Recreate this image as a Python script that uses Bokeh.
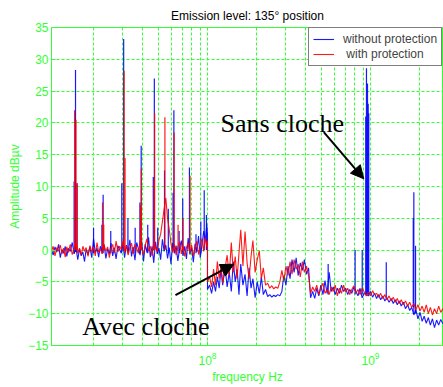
from bokeh.plotting import figure
from bokeh.models import (Range1d, FixedTicker, LogTickFormatter, Label, Arrow,
                          NormalHead, Legend, LegendItem, ColumnDataSource)
from bokeh.embed import file_html
from bokeh.resources import INLINE

title_text = "Emission level: 135\u00b0 position"
x_label = "frequency Hz"
y_label = "Amplitude dB\u00b5v"
series_names = ["without protection", " with protection"]

# ---- band 1 (MHz) ----
seg1_mhz = [
    11.0, 11.3, 11.6, 11.9, 12.2, 12.5, 12.8, 13.1, 13.4, 13.7,
    14.0, 14.4, 14.8, 15.2, 15.6, 16.0, 16.4, 16.8, 17.2, 17.6,
    18.0, 18.5, 19.0, 19.5, 20.0, 20.5, 21.0, 21.5, 22.0, 22.6,
    23.2, 23.8, 24.4, 25.0, 25.6, 26.2, 26.8, 27.5, 28.2, 28.9,
    29.6, 30.3, 31.0, 31.8, 32.6, 33.4, 34.2, 35.0, 35.9, 36.8,
    37.7, 38.6, 39.5, 40.5, 41.5, 42.5, 43.5, 44.6, 45.7, 46.8,
    48.0, 49.2, 50.4, 51.6, 52.9, 54.2, 55.5, 56.9, 58.3, 59.7,
    61.2, 62.7, 64.2, 65.8, 67.4, 69.1, 70.8, 72.5, 74.3, 76.1,
    78.0, 79.9, 81.9, 83.9, 86.0, 88.1, 90.3, 92.5, 94.8, 97.1,
    99.0, 100.0]
blue_seg1 = [
    0.2, -0.8, 0.5, -0.3, 0.9, -1.2, 0.1, -0.5, 0.6, -1.0,
    0.3, -0.2, 1.2, -0.6, 0.4, -1.5, 0.2, -0.9, -0.3, -1.8,
    0.1, -0.7, 0.5, -1.2, 1.8, -0.4, 0.3, -1.1, 0.6, -0.2,
    0.9, -1.3, 0.2, -0.6, 1.1, -0.9, 0.4, -1.4, 0.7, 0.1,
    -0.5, 1.0, -1.2, 0.8, -0.3, 1.6, -1.0, 0.5, -1.6, 1.2,
    0.2, -0.8, 1.4, -1.8, 0.9, -0.4, 2.0, -1.1, 0.6, -2.0,
    1.3, -0.6, 0.3, -1.5, 1.7, -0.2, 0.8, -1.3, 0.4, -2.2,
    1.1, -0.5, 0.7, -1.7, 0.2, 1.5, -0.9, 0.6, -1.4, 1.9,
    -0.7, 0.4, -1.9, 1.0, -0.3, 2.2, -1.2, 0.8, 3.0, 1.5,
    4.0, 2.5]
red_seg1 = [
    -0.3, 0.6, -0.9, 0.4, -0.2, 0.8, -0.6, 0.3, -1.1, 0.5,
    -0.4, 0.9, -0.7, 0.2, 1.0, -0.5, 0.3, -0.8, 0.6, -0.2,
    0.4, -1.0, 0.7, -0.3, 0.5, -0.9, 1.2, -0.4, 0.2, -0.6,
    0.8, -0.2, 0.5, -1.2, 0.3, 0.9, -0.5, 1.4, -0.3, 0.6,
    0.1, 1.5, -0.4, 0.7, -0.8, 0.4, 1.1, -0.6, 0.9, 0.2,
    -0.5, 1.3, 0.3, -0.7, 0.8, 1.8, -0.2, 0.6, -0.9, 1.2,
    0.4, -0.3, 1.6, 2.5, 4.5, 6.5, 8.2, 5.0, 3.2, 1.0,
    -0.4, 0.9, -0.8, 0.5, 1.3, -0.6, 0.7, -1.0, 0.4, 1.1,
    -0.5, 0.8, -0.9, 0.3, 1.4, -0.7, 0.6, 1.8, -0.2, 2.0,
    0.5, 1.5]

# ---- band 2 (MHz) ----
seg2_mhz = [
    100, 103, 106, 109, 112, 115, 118, 121, 124, 128,
    132, 136, 140, 144, 148, 152, 156, 160, 165, 170,
    175, 180, 185, 190, 196, 202, 208, 214, 220, 227,
    234, 241, 248, 255, 262, 270, 278, 286, 294, 303,
    312, 321, 330, 340, 350, 360, 371, 382, 393, 405,
    417, 429, 442, 455, 468, 482, 496, 511, 526, 542,
    558, 574, 591, 608, 626, 645, 664, 684, 704, 725,
    746, 768, 791, 814, 838, 863, 889, 915, 942, 970,
    999, 1030, 1060, 1090, 1120, 1155, 1190, 1225, 1260, 1300,
    1340, 1380, 1420, 1460, 1500, 1545, 1590, 1640, 1690, 1740,
    1790, 1845, 1900, 1955, 2015, 2075, 2135, 2200, 2265, 2330,
    2400, 2470, 2545, 2620, 2700, 2780]
blue_seg2 = [
    -6.2, -5.5, -6.8, -5.0, -6.5, -4.2, -6.0, -3.0, -5.5, -2.5,
    -5.8, -3.5, -6.5, -1.8, -5.0, -3.0, -7.0, -2.2, -5.5, -3.8,
    -7.2, -2.8, -6.0, -4.5, -7.5, -5.0, -6.8, -4.2, -7.0, -6.2,
    -7.3, -7.0, -7.4, -7.1, -7.3, -7.0, -7.2, -6.5, -4.0, -5.5,
    -2.5, -4.5, -1.5, -3.5, -1.2, -4.0, -2.0, -3.2, -1.5, -3.8,
    -2.8, -7.5, -6.5, -7.6, -6.0, -7.2, -5.5, -7.0, -4.8, -6.8,
    -3.5, -6.5, -5.8, -7.0, -6.0, -6.8, -5.5, -6.5, -6.0, -7.0,
    -6.2, -6.8, -5.8, -6.5, -7.2, -6.0, -7.5, -6.8, -7.0, -7.2,
    -6.5, -7.4, -6.8, -7.6, -7.0, -7.8, -7.2, -8.0, -7.5, -8.2,
    -7.6, -8.4, -7.8, -8.6, -8.0, -8.8, -8.2, -9.2, -8.6, -9.5,
    -9.0, -10.2, -9.4, -10.8, -9.8, -11.2, -10.4, -11.5, -10.6, -11.8,
    -10.8, -12.2, -11.0, -11.8, -10.9, -11.6]
red_seg2 = [
    -5.0, -4.2, -5.8, -3.0, -5.5, -1.8, -4.5, -2.5, -5.2, -3.0,
    -0.8, -4.0, 1.2, -3.5, -1.0, -4.5, -0.5, 3.2, -2.5, 2.9,
    -2.0, -4.5, -1.0, 1.5, -3.5, -1.5, -0.1, -4.5, -2.8, -5.5,
    -5.2, -6.0, -5.6, -6.1, -5.8, -6.0, -5.0, -3.2, -4.8, -2.5,
    -4.0, -1.8, -3.8, -1.5, -3.0, -2.2, -4.2, -1.8, -3.5, -2.5,
    -4.0, -6.8, -5.8, -6.5, -5.5, -7.0, -6.0, -5.2, -6.8, -6.2,
    -7.0, -5.8, -6.5, -5.5, -7.2, -6.0, -6.8, -5.5, -6.6, -6.0,
    -7.0, -6.2, -5.6, -6.8, -6.2, -7.0, -6.0, -6.6, -7.2, -6.6,
    -7.2, -6.4, -7.0, -6.8, -7.4, -6.8, -7.6, -7.0, -7.8, -7.2,
    -8.0, -7.4, -8.2, -7.6, -8.4, -7.8, -8.6, -8.0, -8.8, -8.2,
    -9.0, -8.4, -9.4, -8.6, -9.6, -8.8, -9.8, -8.6, -10.0, -9.0,
    -10.2, -9.2, -10.0, -8.8, -9.8, -9.2]

# ---- narrow emission lines (MHz, peak, foot) ----
blue_spike_mhz = [15.2, 15.5, 15.8, 20.0, 22.5, 22.9, 25.5, 29.8, 30.6, 32.5,
                  36.0, 38.5, 39.2, 43.0, 46.5, 47.2, 49.5, 54.5, 57.5, 61.5,
                  62.2, 67.0, 70.5, 77.5, 85.0, 91.0, 95.5, 98.5,
                  550, 805, 890, 935, 945, 959, 968, 976, 1250, 1830, 1845, 1890]
blue_spike_top = [10.8, 28.3, 10.5, 3.5, 4.0, 8.7, 3.0, 10.5, 33.2, 5.0,
                  3.5, 7.5, 16.4, 4.0, 11.5, 27.0, 3.5, 12.5, 6.5, 9.0,
                  22.0, 3.0, 8.1, 13.0, 2.5, 4.5, 9.4, 5.5,
                  -2.2, 0.0, 0.0, 21.0, 28.6, 26.2, 23.0, 21.5, -1.9, 5.0, 9.1, 0.7]
blue_spike_foot = [-0.5, -0.3, 0.0, -0.5, -0.5, -0.5, -0.5, -0.3, 0.0, -0.5,
                   -0.5, -0.5, 0.0, -0.5, 0.0, 0.0, -0.5, 0.0, -0.5, 0.0,
                   0.0, -0.5, 0.0, 0.0, -0.5, -0.5, 0.0, 0.0,
                   -7.0, -7.0, -7.0, -7.0, -7.0, -7.0, -7.0, -7.0, -7.5, -9.0, -10.0, -10.0]
red_spike_mhz = [15.3, 15.6, 15.9, 22.7, 23.1, 30.8, 31.2, 38.8, 39.3, 47.0,
                 47.4, 54.8, 62.4, 66.0, 70.8, 78.2]
red_spike_top = [22.0, 20.5, 10.5, 7.5, 4.0, 28.2, 14.5, 7.0, 12.8, 11.0,
                 21.5, 20.9, 18.5, 4.0, 5.0, 11.7]
red_spike_foot = [0.0, 0.0, 0.0, 0.0, 0.0, 0.0, 0.0, 0.0, 0.0, 0.0,
                  0.0, 0.0, 0.0, 0.0, 0.0, 0.0]

y_ticks = [-15, -10, -5, 0, 5, 10, 15, 20, 25, 30, 35]
x_major_ticks = [1e8, 1e9]
x_minor_ticks = [2e7, 3e7, 4e7, 5e7, 6e7, 7e7, 8e7, 9e7,
                 2e8, 3e8, 4e8, 5e8, 6e8, 7e8, 8e8, 9e8, 2e9]

GREEN = "#33ff33"
FONT = "Liberation Sans"

freq_hz = [f * 1e6 for f in seg1_mhz + seg2_mhz]
src = ColumnDataSource(dict(f=freq_hz, blue=blue_seg1 + blue_seg2, red=red_seg1 + red_seg2))
bsp = ColumnDataSource(dict(f=[f * 1e6 for f in blue_spike_mhz], top=blue_spike_top, foot=blue_spike_foot))
rsp = ColumnDataSource(dict(f=[f * 1e6 for f in red_spike_mhz], top=red_spike_top, foot=red_spike_foot))

p = figure(width=443, height=387, x_axis_type="log",
           x_range=Range1d(10 ** 7.043, 10 ** 9.448), y_range=Range1d(-15, 35),
           output_backend="svg", toolbar_location=None,
           min_border_left=51, min_border_right=0, min_border_top=27, min_border_bottom=42,
           title=title_text)
p.background_fill_color = "white"
p.border_fill_color = "white"
p.outline_line_color = GREEN
p.outline_line_width = 1

p.title.align = "center"
p.title.text_font = FONT
p.title.text_font_size = "12px"
p.title.text_font_style = "normal"
p.title.text_color = "black"
p.title.standoff = 10

# axes
xa = p.xaxis[0]
xa.ticker = FixedTicker(ticks=x_major_ticks, minor_ticks=x_minor_ticks)
xa.formatter = LogTickFormatter()
ya = p.yaxis[0]
ya.ticker = FixedTicker(ticks=y_ticks, minor_ticks=[])
for ax in (xa, ya):
    ax.axis_line_color = GREEN
    ax.major_tick_line_color = GREEN
    ax.minor_tick_line_color = GREEN
    ax.major_tick_in = 4
    ax.major_tick_out = 0
    ax.minor_tick_in = 2
    ax.minor_tick_out = 0
    ax.major_label_text_color = GREEN
    ax.major_label_text_font = FONT
    ax.major_label_text_font_size = "12px"
    ax.axis_label_text_color = GREEN
    ax.axis_label_text_font = FONT
    ax.axis_label_text_font_size = "12px"
    ax.axis_label_text_font_style = "normal"
xa.axis_label = x_label
ya.axis_label = y_label
xa.major_label_standoff = 6
xa.axis_label_standoff = 2
ya.major_label_standoff = 3
ya.axis_label_standoff = 3

for g in (p.xgrid[0], p.ygrid[0]):
    g.grid_line_color = GREEN
    g.grid_line_dash = "3 2"
    g.grid_line_width = 1
p.xgrid[0].minor_grid_line_color = GREEN
p.xgrid[0].minor_grid_line_dash = "3 2"
p.xgrid[0].ticker = xa.ticker
p.ygrid[0].ticker = ya.ticker

# data
bl = p.line("f", "blue", source=src, line_color="blue", line_width=1.1, line_alpha=0.9)
p.segment(x0="f", y0="foot", x1="f", y1="top", source=bsp, line_color="blue", line_width=1.2, line_alpha=0.9)
rl = p.line("f", "red", source=src, line_color="red", line_width=1.1, line_alpha=0.9)
p.segment(x0="f", y0="foot", x1="f", y1="top", source=rsp, line_color="red", line_width=1.2, line_alpha=0.9)

legend = Legend(items=[LegendItem(label=series_names[0], renderers=[bl]),
                       LegendItem(label=series_names[1], renderers=[rl])],
                location=(257, 279), margin=0, padding=4, spacing=1,
                glyph_width=21, glyph_height=14, label_height=14, label_standoff=9,
                label_text_font=FONT, label_text_font_size="12px",
                border_line_color="black", border_line_width=1,
                background_fill_color="white", background_fill_alpha=1.0)
p.add_layout(legend)

# annotations
p.add_layout(Label(x=1.202e8, y=19.86, text="Sans cloche", text_font="Liberation Serif",
                   text_font_size="26px", text_color="black", text_baseline="alphabetic"))
p.add_layout(Label(x=1.703e7, y=-12.01, text="Avec cloche", text_font="Liberation Serif",
                   text_font_size="26px", text_color="black", text_baseline="alphabetic"))
p.add_layout(Arrow(end=NormalHead(size=13, fill_color="black", line_color="black"),
                   x_start=5.17e8, y_start=18.54, x_end=9.1e8, y_end=11.21,
                   line_color="black", line_width=2))
p.add_layout(Arrow(end=NormalHead(size=13, fill_color="black", line_color="black"),
                   x_start=6.36e7, y_start=-7.09, x_end=1.45e8, y_end=-2.22,
                   line_color="black", line_width=2))

open("out.html", "w").write(file_html(p, INLINE))
